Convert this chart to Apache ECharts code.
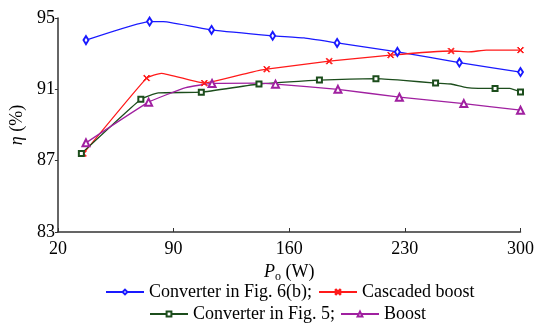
<!DOCTYPE html>
<html>
<head>
<meta charset="utf-8">
<script src="https://cdn.jsdelivr.net/npm/echarts@6/dist/echarts.min.js"></script>
<style>
  html, body { margin: 0; padding: 0; background: #fff; }
  #chart { width: 537px; height: 325px; }
</style>
</head>
<body>
<div id="chart"></div>
<script>
// efficiency curves, [Po (W), eta (%)], vertices
const fig6bPts = [[37, 93.76], [75.5, 94.8], [83.8, 94.8], [113, 94.33], [150, 94.0], [169, 93.88],
  [189, 93.6], [225.5, 93.1], [263, 92.5], [300, 91.97]];
const fig6bMarked = [0, 1, 3, 4, 6, 7, 8, 9];

const cascadedPts = [[35.4, 87.4], [73.7, 91.63], [82.6, 91.9], [108.6, 91.35], [137.5, 91.97],
  [146.4, 92.13], [184.2, 92.58], [221.4, 92.92], [258, 93.15], [268.7, 93.1], [279.3, 93.2], [300, 93.2]];
const cascadedMarked = [0, 1, 3, 5, 6, 7, 8, 11];

const fig5Pts = [[34.2, 87.4], [70.2, 90.45], [80.8, 90.8], [106.8, 90.84], [141.7, 91.3],
  [178.3, 91.52], [196.6, 91.57], [212.5, 91.6], [229, 91.5], [248.6, 91.35], [258, 91.3],
  [267.5, 91.1], [284.6, 91.05], [293.5, 91.05], [300, 90.85]];
const fig5Marked = [0, 1, 3, 4, 5, 7, 9, 12, 14];

const boostPts = [[37, 88.0], [74.9, 90.28], [97.4, 91.1], [113.3, 91.33], [140.5, 91.35],
  [151.7, 91.29], [189.5, 91.0], [226.7, 90.56], [265.7, 90.2], [300, 89.83]];
const boostMarked = [0, 1, 3, 5, 6, 7, 8, 9];

const xTicks = { min: 20, max: 300, step: 70 };
const yTicks = { min: 83, max: 95, step: 4 };

const FONT = 'Liberation Serif';
const crossPath = 'path://M0,1L1,0L5,4L9,0L10,1L6,5L10,9L9,10L5,6L1,10L0,9L4,5Z';

function withMarkers(pts, marked) {
  return pts.map((p, i) => marked.includes(i) ? p : { value: p, symbol: 'none' });
}

function makeSeries(name, pts, marked, color, symbol, size) {
  return {
    name: name,
    type: 'line',
    data: withMarkers(pts, marked),
    symbol: symbol,
    symbolSize: size,
    showAllSymbol: true,
    smooth: 0.12,
    lineStyle: { color: color, width: 1.3 },
    itemStyle: { color: color, borderColor: color, borderWidth: 1 },
    animation: false
  };
}

function makeLegend(name, left, top, label) {
  return {
    data: [name],
    left: left,
    top: top,
    itemWidth: 38,
    itemHeight: 6,
    itemGap: 0,
    textStyle: { fontFamily: FONT, fontSize: 18, color: '#000' },
    formatter: () => label
  };
}

const chart = echarts.init(document.getElementById('chart'), null, { renderer: 'canvas' });

chart.setOption({
  backgroundColor: '#fff',
  animation: false,
  textStyle: { fontFamily: FONT },
  grid: { left: 49, right: 14, top: 18, bottom: 93, containLabel: false },
  legend: [
    makeLegend('Converter in Fig. 6(b)', 100, 278, 'Converter in Fig. 6(b);'),
    makeLegend('Cascaded boost', 313, 278, 'Cascaded boost'),
    makeLegend('Converter in Fig. 5', 144, 300, 'Converter in Fig. 5;'),
    makeLegend('Boost', 335, 300, 'Boost')
  ],
  xAxis: {
    type: 'value',
    min: xTicks.min,
    max: xTicks.max,
    interval: xTicks.step,
    name: '{i|P}{s|o} (W)',
    nameLocation: 'middle',
    nameGap: 26,
    nameTextStyle: {
      fontFamily: FONT, fontSize: 18, color: '#000',
      rich: {
        i: { fontFamily: FONT, fontSize: 18, fontStyle: 'italic', color: '#000' },
        s: { fontFamily: FONT, fontSize: 12, color: '#000', padding: [9, 0, 0, 0] }
      }
    },
    axisLine: { lineStyle: { color: '#333', width: 1.5 } },
    axisTick: { inside: true, length: 4, lineStyle: { color: '#333' } },
    axisLabel: { fontFamily: FONT, fontSize: 18, color: '#000', margin: 8 },
    splitLine: { show: false }
  },
  yAxis: {
    type: 'value',
    min: yTicks.min,
    max: yTicks.max,
    interval: yTicks.step,
    name: '{i|η} (%)',
    nameLocation: 'middle',
    nameRotate: 90,
    nameGap: 20,
    nameTextStyle: {
      fontFamily: FONT, fontSize: 18, color: '#000',
      rich: { i: { fontFamily: FONT, fontSize: 18, fontStyle: 'italic', color: '#000' } }
    },
    axisLine: { show: true, lineStyle: { color: '#333', width: 1.5 } },
    axisTick: { show: true, length: 3, lineStyle: { color: '#333' } },
    axisLabel: { fontFamily: FONT, fontSize: 18, color: '#000', margin: 3 },
    splitLine: { show: false }
  },
  series: [
    makeSeries('Converter in Fig. 6(b)', fig6bPts, fig6bMarked, '#1a1aff', 'emptyDiamond', [5, 8]),
    makeSeries('Cascaded boost', cascadedPts, cascadedMarked, '#ff1a1a', crossPath, 6),
    makeSeries('Converter in Fig. 5', fig5Pts, fig5Marked, '#1c4d1c', 'emptyRect', 5),
    makeSeries('Boost', boostPts, boostMarked, '#a020a0', 'emptyTriangle', 7)
  ]
});
</script>
</body>
</html>
